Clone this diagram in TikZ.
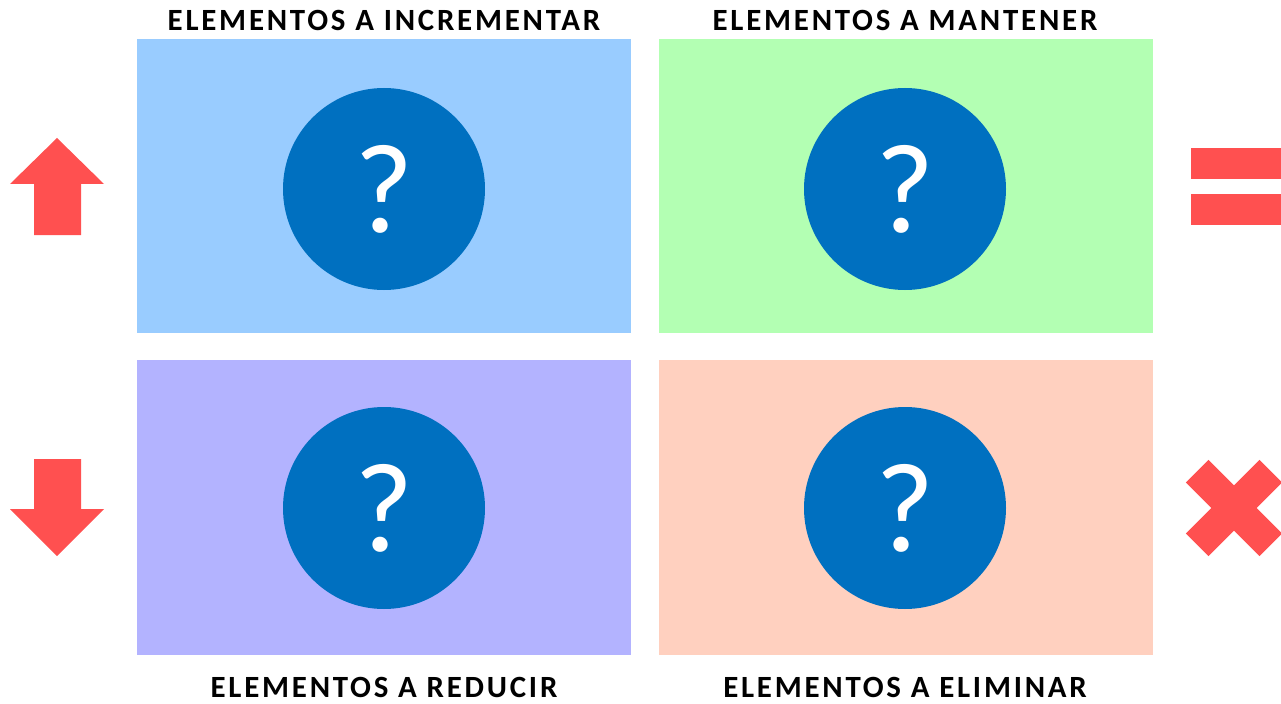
\documentclass[tikz,border=0pt]{standalone}
\usepackage{fontspec}
\setmainfont{Carlito}
\newfontfamily\titlefont[LetterSpace=9]{Carlito}
\definecolor{cblue}{HTML}{99CCFF}
\definecolor{cgreen}{HTML}{B3FFB3}
\definecolor{cpurple}{HTML}{B3B3FF}
\definecolor{cpeach}{HTML}{FFD0BF}
\definecolor{ccirc}{HTML}{0070C0}
\definecolor{cred}{HTML}{FF5050}
\begin{document}
\begin{tikzpicture}[x=1bp,y=-1bp,
  quad/.style={draw=none,minimum width=494bp,minimum height=294bp,inner sep=0pt},
  qcirc/.style={circle,fill=ccirc,minimum size=202bp,inner sep=0pt,text=white,font=\fontsize{128}{128}\selectfont},
  ttl/.style={font=\titlefont\bfseries\fontsize{31}{32}\selectfont,inner sep=0pt,anchor=base,text depth=0pt},
  sym/.style={fill=cred,draw=none}]
\useasboundingbox (0,0) rectangle (1281,704);
\node[quad,fill=cblue] (q1) at (384,186) {};
\node[quad,fill=cgreen] (q2) at (905.5,186) {};
\node[quad,fill=cpurple] (q3) at (384,507.5) {};
\node[quad,fill=cpeach] (q4) at (905.5,507.5) {};
\node[qcirc] (c1) at (384,189) {?};
\node[qcirc] (c2) at (905,189) {?};
\node[qcirc] (c3) at (384,508) {?};
\node[qcirc] (c4) at (905,508) {?};
\node[ttl] (t1) at (384,31) {ELEMENTOS A INCREMENTAR};
\node[ttl] (t2) at (905,31) {ELEMENTOS A MANTENER};
\node[ttl] (t3) at (384,697) {ELEMENTOS A REDUCIR};
\node[ttl] (t4) at (905,697) {ELEMENTOS A ELIMINAR};
% up arrow
\fill[sym] (57,138) -- (104,184) -- (81,184) -- (81,235) -- (34,235) -- (34,184) -- (10,184) -- cycle;
% down arrow
\fill[sym] (57,556) -- (104,509) -- (81,509) -- (81,459) -- (34,459) -- (34,509) -- (10,509) -- cycle;
% equals
\fill[sym] (1191,148) rectangle (1281,179);
\fill[sym] (1191,194) rectangle (1281,225);
% cross
\begin{scope}[shift={(1234,508)}]
\fill[sym,rotate=45] (-52,-16) rectangle (52,16);
\fill[sym,rotate=-45] (-52,-16) rectangle (52,16);
\end{scope}
\end{tikzpicture}
\end{document}
